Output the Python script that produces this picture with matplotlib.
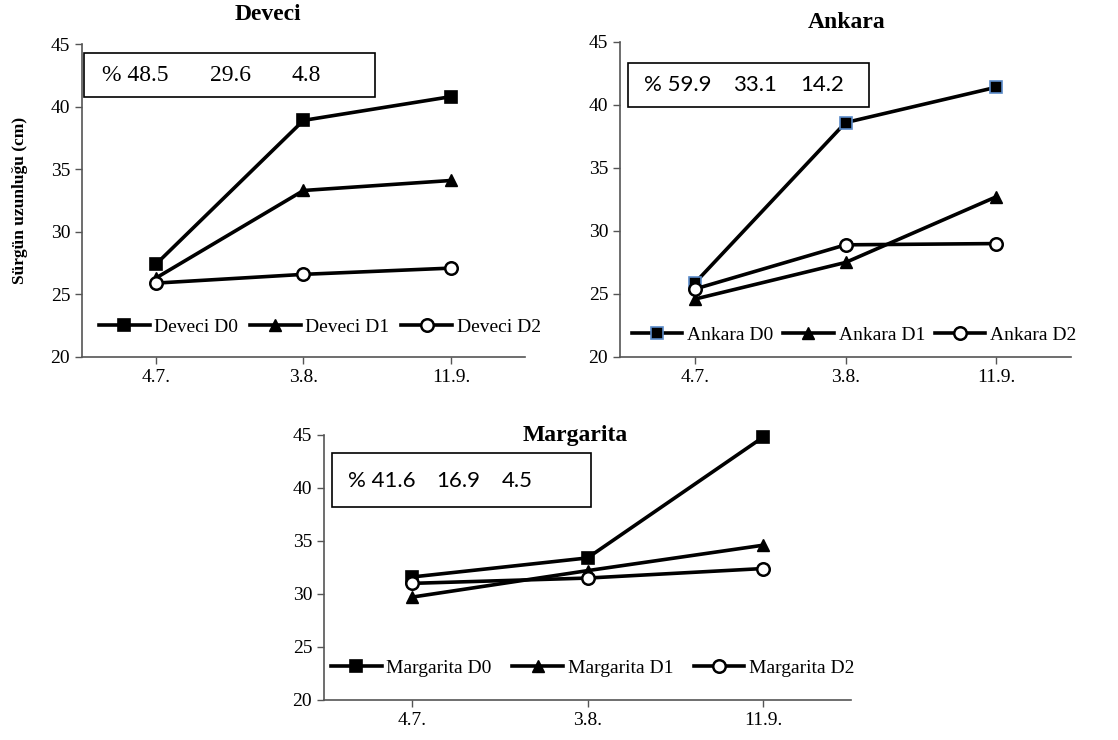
import matplotlib
matplotlib.use("Agg")
import matplotlib.pyplot as plt
from matplotlib.patches import Rectangle

# dates of measurement
dates = ["4.7.", "3.8.", "11.9."]

# shoot length (cm) per variety and dose
deveci_d0 = [27.4, 38.9, 40.8]
deveci_d1 = [26.3, 33.3, 34.1]
deveci_d2 = [25.9, 26.6, 27.1]

ankara_d0 = [25.9, 38.6, 41.4]
ankara_d1 = [24.6, 27.5, 32.7]
ankara_d2 = [25.4, 28.9, 29.0]

margarita_d0 = [31.6, 33.4, 44.8]
margarita_d1 = [29.7, 32.2, 34.6]
margarita_d2 = [31.0, 31.5, 32.4]

# percent values shown in the boxes
deveci_pct = ["% 48.5", "29.6", "4.8"]
ankara_pct = ["% 59.9", "33.1", "14.2"]
margarita_pct = ["% 41.6", "16.9", "4.5"]

plt.rcParams["font.family"] = ["Liberation Serif", "DejaVu Serif"]

fig = plt.figure(figsize=(11.18, 7.40), dpi=100)


def panel(rect, name, d0, d1, d2, pct, pct_x, pct_font, box, text_y, leg_anchor, colsp,
          d0_edge="black"):
    ax = fig.add_axes(rect)
    x = range(len(dates))
    ax.plot(x, d0, color="black", lw=2.6, marker="s", ms=8.5, mfc="black", mec=d0_edge, mew=1.2,
            label=name + " D0", clip_on=False)
    ax.plot(x, d1, color="black", lw=2.6, marker="^", ms=9, mfc="black", mec="black",
            label=name + " D1", clip_on=False)
    ax.plot(x, d2, color="black", lw=2.6, marker="o", ms=9, mfc="white", mec="black", mew=1.8,
            label=name + " D2", clip_on=False)
    ax.set_xlim(-0.5, len(dates) - 0.5)
    ax.set_ylim(20, 45)
    ax.set_yticks([20, 25, 30, 35, 40, 45])
    ax.set_xticks(list(x))
    ax.set_xticklabels(dates)
    ax.tick_params(labelsize=14, direction="out", length=5, width=1, color="#555555")
    for s in ["top", "right"]:
        ax.spines[s].set_visible(False)
    for s in ["left", "bottom"]:
        ax.spines[s].set_color("#555555")
        ax.spines[s].set_linewidth(1.2)

    bx0, by0, bx1, by1 = box
    ax.add_patch(Rectangle((bx0, by0), bx1 - bx0, by1 - by0, transform=ax.transAxes,
                           fill=False, ec="black", lw=1.2, clip_on=False))
    for t, px in zip(pct, pct_x):
        ax.text(px, text_y, t, transform=ax.transAxes, va="center", ha="left", **pct_font)

    ax.legend(loc="center", bbox_to_anchor=leg_anchor, ncol=3, frameon=False,
              fontsize=14, handlelength=2.6, columnspacing=colsp, handletextpad=0.25,
              borderaxespad=0, borderpad=0)
    return ax


ax1 = panel([0.0733, 0.5176, 0.3963, 0.4229], "Deveci", deveci_d0, deveci_d1, deveci_d2,
            deveci_pct, [0.045, 0.289, 0.472],
            dict(fontsize=17, family=["Liberation Serif"]),
            (0.005, 0.831, 0.661, 0.971), 0.899, (0.537, 0.095), 0.6)
ax1.set_ylabel("Sürgün uzunluğu (cm)", fontsize=12.5, fontweight="bold", labelpad=16)

ax2 = panel([0.5546, 0.5176, 0.4034, 0.4257], "Ankara", ankara_d0, ankara_d1, ankara_d2,
            ankara_pct, [0.053, 0.251, 0.399],
            dict(fontsize=16, family=["Lato", "DejaVu Sans"]),
            (0.018, 0.794, 0.552, 0.933), 0.862, (0.519, 0.07), 0.5, d0_edge="#5b8bc9")

ax3 = panel([0.2898, 0.0541, 0.4714, 0.3581], "Margarita", margarita_d0, margarita_d1, margarita_d2,
            margarita_pct, [0.046, 0.213, 0.338],
            dict(fontsize=16, family=["Lato", "DejaVu Sans"]),
            (0.015, 0.728, 0.507, 0.932), 0.828, (0.51, 0.12), 1.05)

fig.text(268 / 1118, 1 - 15 / 740, "Deveci", ha="center", va="center", fontsize=17, fontweight="bold")
fig.text(847 / 1118, 1 - 23 / 740, "Ankara", ha="center", va="center", fontsize=17, fontweight="bold")
fig.text(575 / 1118, 1 - 435 / 740, "Margarita", ha="center", va="center", fontsize=17, fontweight="bold")

fig.savefig("out.png", dpi=100)
